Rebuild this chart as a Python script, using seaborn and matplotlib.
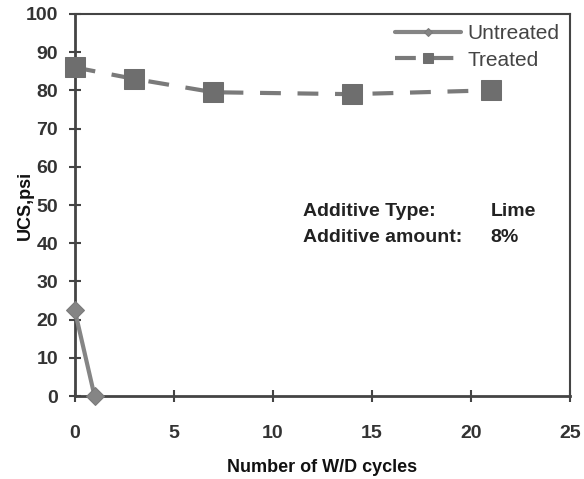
import matplotlib
matplotlib.use("Agg")
import matplotlib.pyplot as plt
import seaborn as sns
import pandas as pd

# data
untreated_cycles = [0, 1]
untreated_ucs = [22.5, 0]
treated_cycles = [0, 3, 7, 14, 21]
treated_ucs = [86, 83, 79.5, 79, 80]

sns.set_style("white")
plt.rcParams['font.family'] = ['Liberation Sans', 'DejaVu Sans']

df_u = pd.DataFrame({"cycles": untreated_cycles, "ucs": untreated_ucs})
df_t = pd.DataFrame({"cycles": treated_cycles, "ucs": treated_ucs})

fig = plt.figure(figsize=(5.84, 4.79), dpi=100)
ax = fig.add_axes([0.128, 0.173, 0.848, 0.798])

sns.lineplot(data=df_u, x="cycles", y="ucs", ax=ax, color="#858585", lw=3,
             marker="D", markersize=9, markeredgecolor="#7a7a7a", label="Untreated",
             clip_on=False, zorder=3)
sns.lineplot(data=df_t, x="cycles", y="ucs", ax=ax, color="#7a7a7a", lw=3,
             linestyle=(0, (5, 4)), marker="s", markersize=14,
             markeredgecolor="#6e6e6e", markerfacecolor="#6e6e6e", label="Treated",
             clip_on=False, zorder=3)

ax.set_xlim(0, 25)
ax.set_ylim(0, 100)
ax.set_xticks(range(0, 26, 5))
ax.set_yticks(range(0, 101, 10))
ax.tick_params(axis="both", direction="inout", length=8, width=1.5,
               labelsize=14, colors="#444444", bottom=True, left=True)
ax.tick_params(axis="x", pad=17)
ax.tick_params(axis="y", pad=8)
for lbl in ax.get_xticklabels() + ax.get_yticklabels():
    lbl.set_fontweight("bold")
    lbl.set_color("#333333")
for sp in ax.spines.values():
    sp.set_color("#444444")
    sp.set_linewidth(1.5)
ax.spines["left"].set_linewidth(2)
ax.spines["bottom"].set_linewidth(2)

ax.set_xlabel("Number of W/D cycles", fontsize=13, fontweight="bold", color="#111111",
              labelpad=12)
ax.set_ylabel("UCS,psi", fontsize=13, fontweight="bold", color="#111111", labelpad=-6)

ax.text(11.5, 47, "Additive Type:", fontsize=14, fontweight="bold", color="#222222")
ax.text(21.0, 47, "Lime", fontsize=14, fontweight="bold", color="#222222")
ax.text(11.5, 40.3, "Additive amount:", fontsize=14, fontweight="bold", color="#222222")
ax.text(21.0, 40.3, "8%", fontsize=14, fontweight="bold", color="#222222")

leg = ax.legend(loc="upper right", frameon=False, fontsize=15, handlelength=3.2,
                borderaxespad=0.1, labelspacing=0.35, handletextpad=0.3,
                markerscale=0.5)
for t in leg.get_texts():
    t.set_color("#444444")

fig.savefig("out.png", dpi=100)
